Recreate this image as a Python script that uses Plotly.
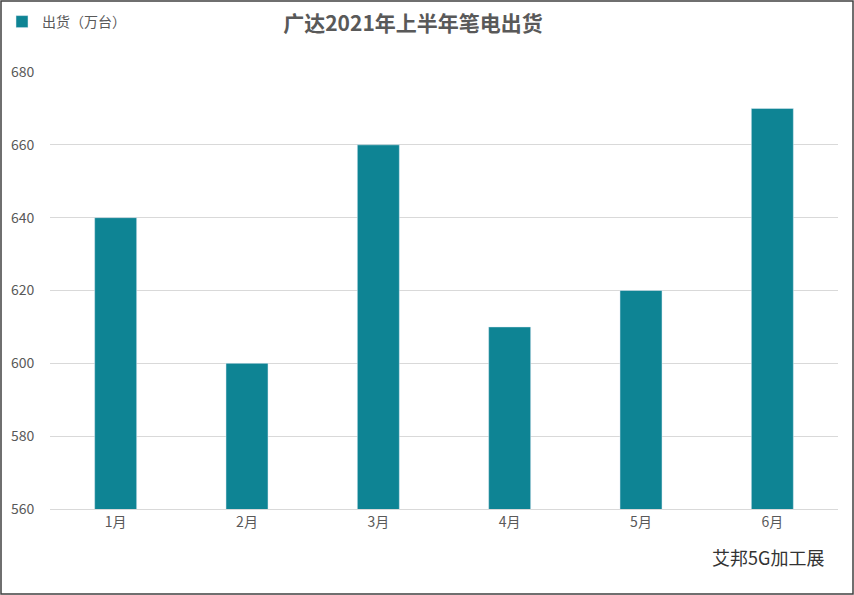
import plotly.graph_objects as go

months = ["1月", "2月", "3月", "4月", "5月", "6月"]
shipments = [640, 600, 660, 610, 620, 670]
y_ticks = [560, 580, 600, 620, 640, 660, 680]

W, H = 854, 595
ml, mr, mt, mb = 50, 16, 72, 86
pw, ph = W - ml - mr, H - mt - mb

fig = go.Figure()
fig.add_trace(go.Bar(
    x=months, y=shipments, base=0, name="出货（万台）",
    marker=dict(color="#0E8494"), width=0.32
))

font = "Noto Sans CJK SC"
fig.update_layout(
    width=W, height=H,
    margin=dict(l=ml, r=mr, t=mt, b=mb, autoexpand=False),
    paper_bgcolor="white", plot_bgcolor="white",
    font=dict(family=font, color="#595959", size=14),
    title=dict(text="<b>广达2021年上半年笔电出货</b>", x=413 / W, xanchor="center",
               y=1 - 24 / H, yanchor="middle", font=dict(size=21, color="#595959")),
    showlegend=True,
    legend=dict(x=-(ml - 2) / pw, y=1 + 50 / ph, xanchor="left", yanchor="middle",
                orientation="h", font=dict(size=14, color="#595959"),
                itemwidth=30, bgcolor="rgba(0,0,0,0)"),
    xaxis=dict(showline=True, linecolor="#d9d9d9", ticks="", tickfont=dict(size=14)),
    yaxis=dict(range=[560, 680], tickvals=y_ticks, gridcolor="#d9d9d9",
               zeroline=False, tickfont=dict(size=14), ticklen=12,
               ticks="outside", tickcolor="white"),
    bargap=0.68,
)
fig.add_annotation(text="艾邦5G加工展", xref="paper", yref="paper",
                   x=(826 - ml) / pw, y=-(557 - mt - ph) / ph, xanchor="right",
                   yanchor="middle", showarrow=False,
                   font=dict(size=18, color="#333333"))
fig.add_shape(type="rect", xref="paper", yref="paper",
              x0=-(ml - 1) / pw, x1=1 + (mr - 1) / pw,
              y0=-(mb - 1) / ph, y1=1 + (mt - 1) / ph,
              line=dict(color="#404040", width=1.5))
fig.write_html("out.html", config={"displayModeBar": False},
               post_script="document.body.style.margin='0';document.body.style.overflow='hidden';")
